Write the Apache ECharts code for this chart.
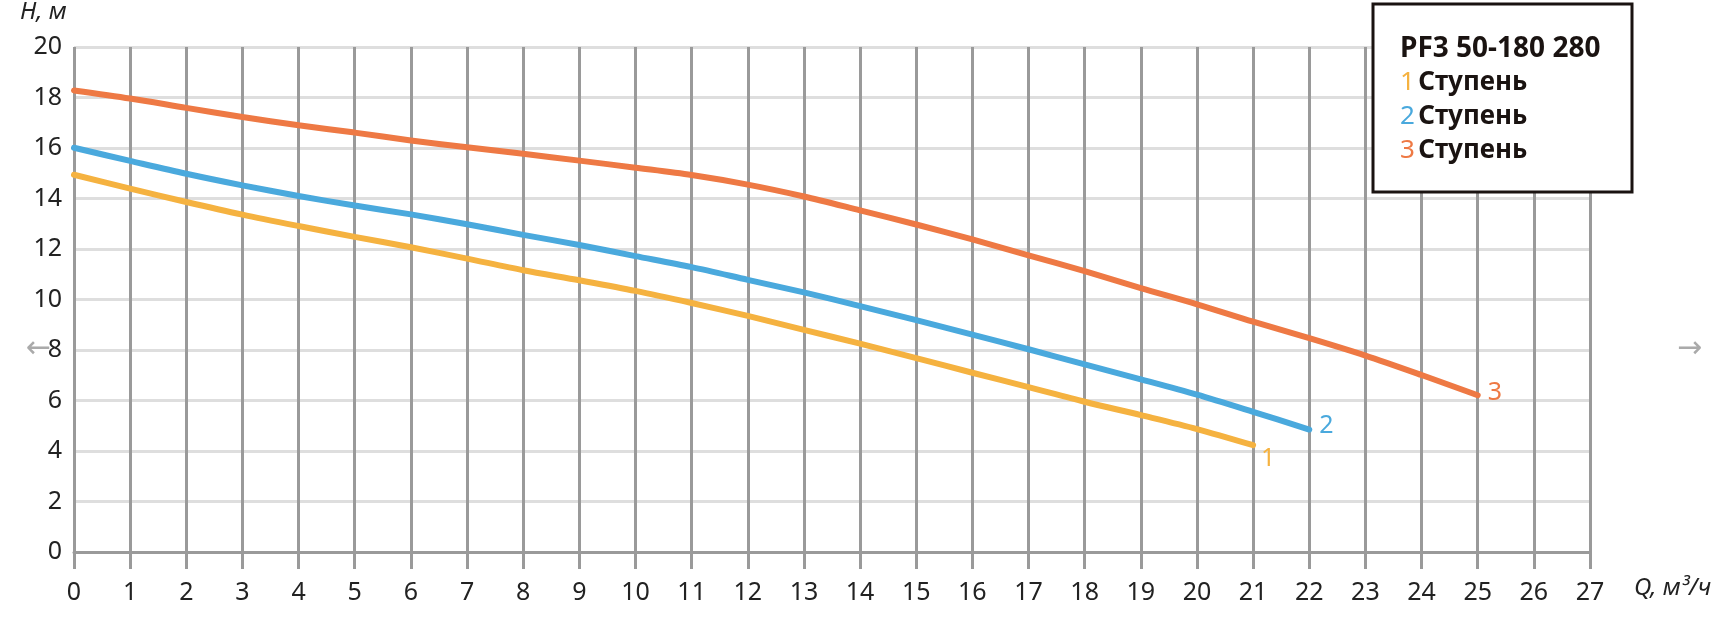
<!DOCTYPE html>
<html>
<head>
<meta charset="utf-8">
<script src="https://cdn.jsdelivr.net/npm/echarts@6/dist/echarts.min.js"></script>
<style>
  html, body { margin: 0; padding: 0; background: #fff; }
  #chart { width: 1713px; height: 625px; }
</style>
</head>
<body>
<div id="chart"></div>
<script>
// подача, м3/ч
var q1 = [0, 1, 2, 3, 4, 5, 6, 7, 8, 9, 10, 11, 12, 13, 14, 15, 16, 17, 18, 19, 20, 21];
var q2 = [0, 1, 2, 3, 4, 5, 6, 7, 8, 9, 10, 11, 12, 13, 14, 15, 16, 17, 18, 19, 20, 21, 22];
var q3 = [0, 1, 2, 3, 4, 5, 6, 7, 8, 9, 10, 11, 12, 13, 14, 15, 16, 17, 18, 19, 20, 21, 22, 23, 24, 25];
// напор, м
var h1 = [14.94, 14.39, 13.86, 13.36, 12.91, 12.48, 12.07, 11.62, 11.16, 10.76, 10.34, 9.86, 9.35, 8.80, 8.25, 7.68, 7.10, 6.53, 5.95, 5.42, 4.87, 4.23];
var h2 = [16.01, 15.49, 14.98, 14.52, 14.10, 13.72, 13.37, 12.98, 12.56, 12.16, 11.72, 11.28, 10.78, 10.28, 9.74, 9.18, 8.61, 8.03, 7.43, 6.84, 6.23, 5.55, 4.85];
var h3 = [18.28, 17.96, 17.59, 17.23, 16.90, 16.61, 16.30, 16.03, 15.77, 15.50, 15.22, 14.93, 14.55, 14.08, 13.53, 12.97, 12.38, 11.75, 11.12, 10.45, 9.81, 9.12, 8.47, 7.78, 7.01, 6.21];

var seriesNames = ['1', '2', '3'];
var colors = ['#f5b240', '#4aa9dd', '#ee7944'];
var legendTitle = 'PF3 50-180 280';
var legendWord = 'Ступень';
var yName = 'H, м';
var xName = 'Q, м³/ч';

function pairs(xs, ys) {
    var out = [];
    for (var i = 0; i < xs.length; i++) {
        out.push([xs[i], ys[i]]);
    }
    return out;
}

var font = 'Noto Sans';
var chart = echarts.init(document.getElementById('chart'));

var endOffsets = [[-2, 14], [0, -4], [0, -2]];
var allData = [pairs(q1, h1), pairs(q2, h2), pairs(q3, h3)];

var series = [];
for (var s = 0; s < 3; s++) {
    series.push({
        name: seriesNames[s],
        type: 'line',
        data: allData[s],
        smooth: 0.3,
        symbol: 'none',
        lineStyle: { color: colors[s], width: 6, cap: 'round' },
        endLabel: {
            show: true,
            formatter: seriesNames[s],
            color: colors[s],
            fontFamily: font,
            fontSize: 25,
            distance: 10,
            offset: endOffsets[s]
        },
        z: 5
    });
}

var legendLines = [
    '{t|' + legendTitle + '}',
    '{c1|1} {w|' + legendWord + '}',
    '{c2|2} {w|' + legendWord + '}',
    '{c3|3} {w|' + legendWord + '}'
].join('\n');

var legendRich = {
    t: { fontFamily: font, fontWeight: 'bold', fontSize: 28, fill: '#1a1311', lineHeight: 34 },
    w: { fontFamily: font, fontWeight: 'bold', fontSize: 26, fill: '#1a1311', lineHeight: 34 },
    c1: { fontFamily: font, fontSize: 26, fill: colors[0], lineHeight: 34 },
    c2: { fontFamily: font, fontSize: 26, fill: colors[1], lineHeight: 34 },
    c3: { fontFamily: font, fontSize: 26, fill: colors[2], lineHeight: 34 }
};

chart.setOption({
    animation: false,
    backgroundColor: '#fff',
    grid: { left: 74, right: 123, top: 47, bottom: 73 },
    xAxis: {
        type: 'value',
        min: 0,
        max: 27,
        interval: 1,
        axisLine: { show: true, lineStyle: { color: '#9a9a9a', width: 3 } },
        axisTick: { show: true, length: 17, lineStyle: { color: '#9a9a9a', width: 3 } },
        splitLine: { show: true, lineStyle: { color: '#9a9a9a', width: 3 } },
        axisLabel: { color: '#222', fontFamily: font, fontSize: 25, margin: 28 }
    },
    yAxis: {
        type: 'value',
        min: 0,
        max: 20,
        interval: 2,
        axisLine: { show: false },
        axisTick: { show: false },
        splitLine: { show: true, lineStyle: { color: '#dedede', width: 3 } },
        axisLabel: { color: '#222', fontFamily: font, fontSize: 25, margin: 12 }
    },
    series: series,
    graphic: [
        {
            type: 'text', left: 20, top: 0,
            style: { text: yName, fill: '#222', font: 'italic 24px "Noto Sans"' }
        },
        {
            type: 'text', left: 1634, top: 576,
            style: { text: xName, fill: '#222', font: 'italic 24px "Noto Sans"' }
        },
        {
            type: 'rect', z: 10,
            shape: { x: 1373, y: 4, width: 259, height: 188 },
            style: { fill: '#fff', stroke: '#1a1311', lineWidth: 3 }
        },
        {
            type: 'text', z: 11, left: 1400, top: 35,
            style: { text: legendLines, rich: legendRich }
        },
        {
            type: 'text', left: 26, top: 334,
            style: { text: '←', fill: '#aaa', font: '30px "DejaVu Sans"' }
        },
        {
            type: 'text', left: 1677, top: 334,
            style: { text: '→', fill: '#aaa', font: '30px "DejaVu Sans"' }
        }
    ]
});
</script>
</body>
</html>
